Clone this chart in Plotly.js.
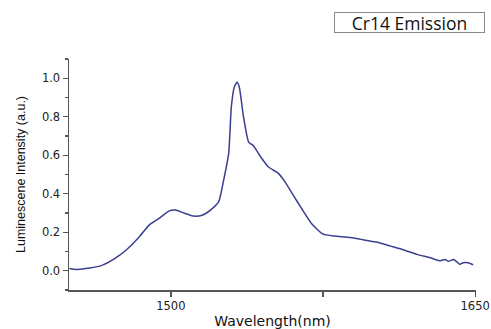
<!DOCTYPE html>
<html>
<head>
<meta charset="utf-8">
<script src="https://cdn.plot.ly/plotly-3.0.1.min.js"></script>
<style>html,body{margin:0;padding:0;background:#fff;}#chart{width:491px;height:329px;}</style>
</head>
<body>
<div id="chart"></div>
<script>
var wavelength = [1450, 1453.7, 1460, 1466, 1471.7, 1478, 1484.5, 1489.3, 1494.2, 1499, 1502.3, 1506.4, 1511.3, 1515.4, 1519.5, 1523.6, 1526, 1528.5, 1529.8, 1531.3, 1532.6, 1533.7, 1535.8, 1538.3, 1540.8, 1544, 1548, 1553, 1556.2, 1560.3, 1564.4, 1569.3, 1575, 1580.7, 1587.3, 1592.2, 1595.3, 1601.8, 1608.3, 1614.8, 1621.3, 1627.8, 1632.7, 1635.2, 1636.8, 1639.3, 1640.9, 1642.5, 1644.1, 1646.5, 1649];
var intensity = [0.012, 0.007, 0.014, 0.028, 0.059, 0.108, 0.177, 0.237, 0.272, 0.31, 0.315, 0.30, 0.284, 0.288, 0.315, 0.359, 0.47, 0.61, 0.85, 0.956, 0.979, 0.956, 0.80, 0.67, 0.648, 0.596, 0.54, 0.506, 0.463, 0.393, 0.324, 0.246, 0.19, 0.18, 0.174, 0.166, 0.16, 0.148, 0.128, 0.108, 0.085, 0.068, 0.052, 0.059, 0.049, 0.059, 0.047, 0.033, 0.042, 0.042, 0.031];
var xTickVals = [1500, 1575, 1650];
var xTickText = ["1500", "", "1650"];
var yTickVals = [0.0, 0.2, 0.4, 0.6, 0.8, 1.0];
var yTickText = ["0.0", "0.2", "0.4", "0.6", "0.8", "1.0"];
var chartLabel = "Cr14 Emission";

var trace = {
  x: wavelength, y: intensity, type: 'scatter', mode: 'lines',
  line: {color: '#3a3f8f', width: 1.5, shape: 'spline', smoothing: 0.5},
  hoverinfo: 'skip'
};

var layout = {
  width: 491, height: 329,
  margin: {l: 69, r: 15, t: 59, b: 39},
  paper_bgcolor: '#fff', plot_bgcolor: '#fff',
  showlegend: false,
  xaxis: {
    range: [1449.8, 1650.4], showgrid: false, zeroline: false,
    showline: true, linecolor: '#555', linewidth: 1.5,
    ticks: 'outside', ticklen: 5, tickwidth: 1.3, tickcolor: '#555',
    tickvals: xTickVals, ticktext: xTickText, ticklabeloverflow: 'allow',
    tickfont: {family: 'DejaVu Sans', size: 11.5, color: '#222'},
    title: {text: 'Wavelength(nm)', font: {family: 'DejaVu Sans', size: 14, color: '#111'}, standoff: 8}
  },
  yaxis: {
    range: [-0.1, 1.1], showgrid: false, zeroline: false,
    showline: true, linecolor: '#555', linewidth: 1.5,
    ticks: 'outside', ticklen: 5, tickwidth: 1.3, tickcolor: '#555',
    tickvals: yTickVals, ticktext: yTickText,
    tickfont: {family: 'DejaVu Sans', size: 11.5, color: '#222'},
    minor: {ticks: 'outside', tickvals: [-0.1, 0.1, 0.3, 0.5, 0.7, 0.9, 1.1], ticklen: 3, tickwidth: 1.2, tickcolor: '#555'},
    title: {text: 'Luminescene Intensity (a.u.)', font: {family: 'Liberation Sans', size: 12.5, color: '#111'}, standoff: 13}
  },
  annotations: [{
    text: chartLabel, xref: 'paper', yref: 'paper', x: 0.8365, y: 1.1567,
    xanchor: 'center', yanchor: 'middle', showarrow: false,
    font: {family: 'Open Sans', size: 17.5, color: '#111'},
    width: 147, height: 17, borderpad: 1, borderwidth: 1, bordercolor: '#888', bgcolor: '#fff'
  }]
};

Plotly.newPlot('chart', [trace], layout, {staticPlot: true, displayModeBar: false});
</script>
</body>
</html>
